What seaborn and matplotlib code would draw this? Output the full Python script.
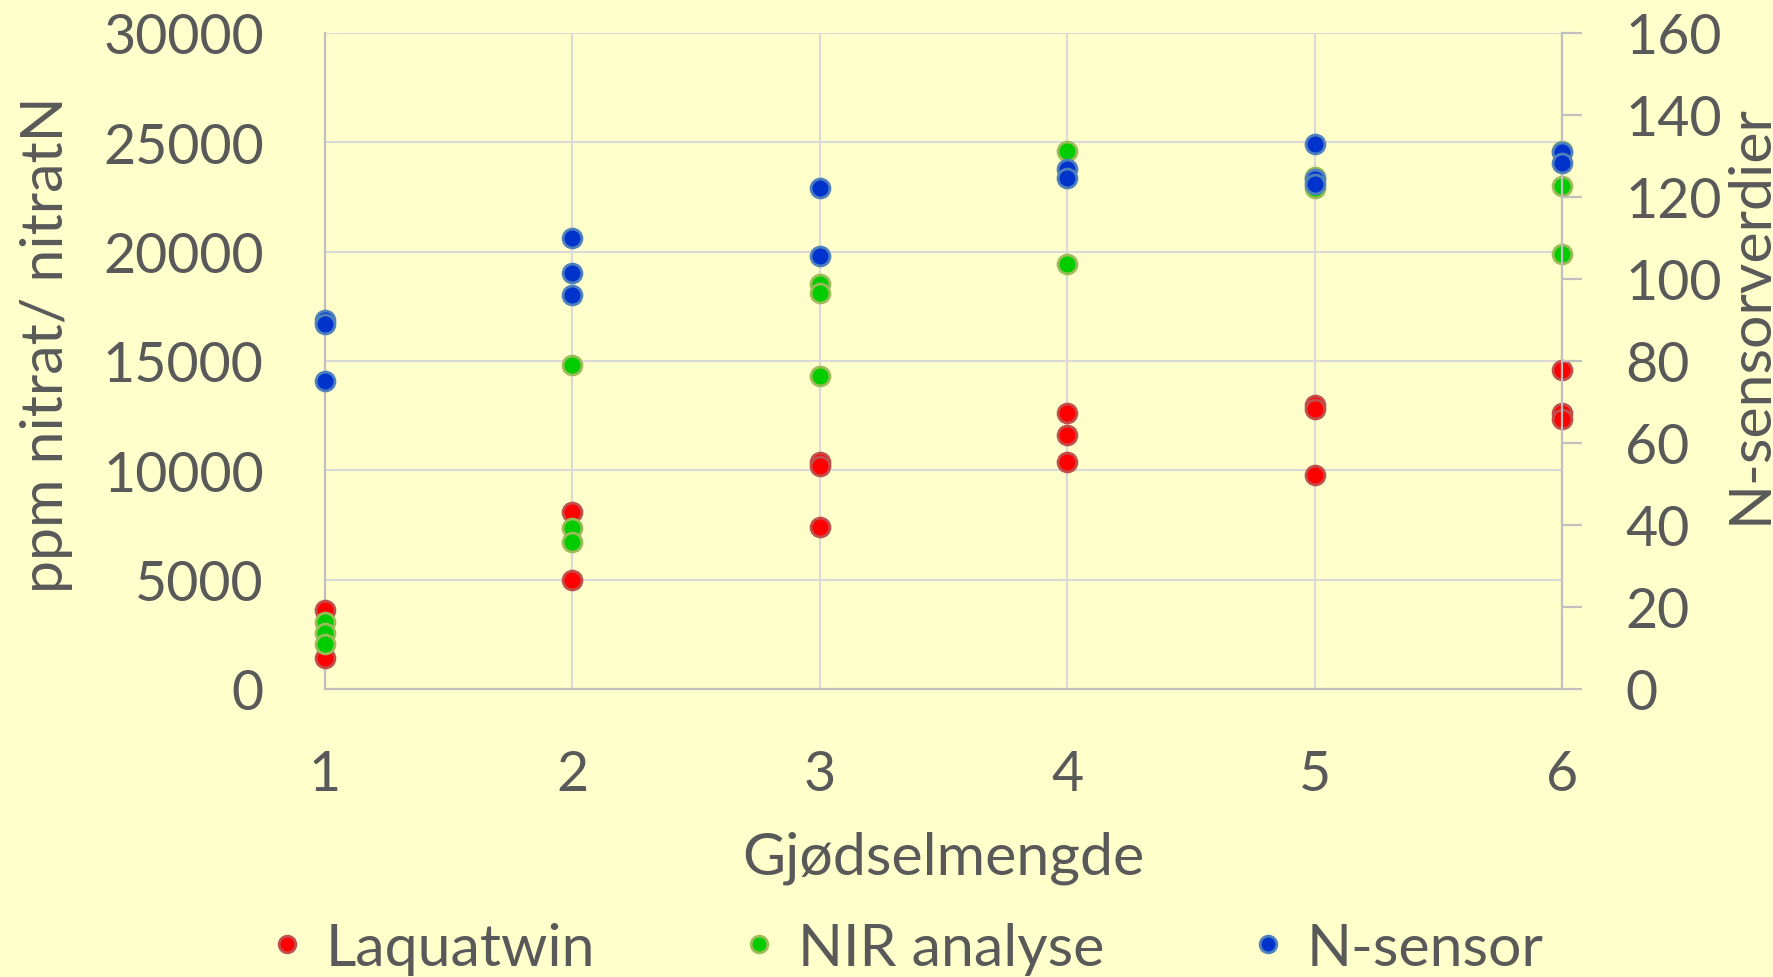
import matplotlib
matplotlib.use("Agg")
import matplotlib.pyplot as plt
import pandas as pd
import seaborn as sns
from matplotlib.lines import Line2D

# Fertiliser level (x) and measured values per method
laqua_x = [1, 1, 2, 2, 3, 3, 3, 4, 4, 4, 5, 5, 5, 6, 6, 6]
laqua_y = [3600, 1400, 8100, 5000, 10400, 10200, 7400, 12600, 11600, 10400,
           13000, 12800, 9800, 14600, 12600, 12350]

nir_x = [1, 1, 1, 2, 2, 2, 3, 3, 3, 4, 4, 5, 5, 6, 6, 6]
nir_y = [3050, 2550, 2050, 14800, 7350, 6700, 18500, 18100, 14300, 24600, 19450,
         23400, 22900, 24600, 23000, 19900]

# N-sensor readings use the secondary (right) axis
nsens_x = [1, 1, 1, 2, 2, 2, 3, 3, 4, 4, 5, 5, 5, 6, 6]
nsens_y = [90, 89, 75, 110, 101.5, 96, 122.3, 105.7, 126.8, 124.6, 133, 124.4, 123.2,
           131, 128.2]

series_names = ["Laquatwin", "NIR analyse", "N-sensor"]
x_ticks = [1, 2, 3, 4, 5, 6]
left_ticks = [0, 5000, 10000, 15000, 20000, 25000, 30000]
right_ticks = [0, 20, 40, 60, 80, 100, 120, 140, 160]

BG = "#FFFFCC"
TXT = "#595959"
AXIS = "#BFBFBF"
GRID = "#D9D9D9"
styles = {
    "Laquatwin": dict(face="#FF0000", edge="#C0504D"),
    "NIR analyse": dict(face="#00CC00", edge="#9BBB59"),
    "N-sensor": dict(face="#0033CC", edge="#4F81BD"),
}

sns.set_theme(style="white")
plt.rcParams["font.family"] = ["Lato", "DejaVu Sans"]
FS_TICK = 40
FS_TEXT = 42.5

fig = plt.figure(figsize=(17.74, 9.78), dpi=100, facecolor=BG)
ax = fig.add_axes([325 / 1774, 1 - 690 / 978, (1562 - 325) / 1774, (690 - 34) / 978])
ax.set_facecolor(BG)
ax2 = ax.twinx()
ax2.patch.set_visible(False)

df_l = pd.DataFrame({"x": laqua_x, "y": laqua_y})
df_n = pd.DataFrame({"x": nir_x, "y": nir_y})
df_s = pd.DataFrame({"x": nsens_x, "y": nsens_y})

MS = 185
LW = 2.0
for d, name, a in [(df_l, "Laquatwin", ax), (df_n, "NIR analyse", ax), (df_s, "N-sensor", ax2)]:
    st = styles[name]
    sns.scatterplot(data=d, x="x", y="y", ax=a, s=MS, color=st["face"],
                    edgecolor=st["edge"], linewidth=LW, clip_on=False, zorder=3,
                    legend=False)

ax.set_xlim(1, 6)
ax.set_ylim(0, 30000)
ax.set_xticks(x_ticks)
ax.set_yticks(left_ticks)
ax2.set_ylim(0, 160)
ax2.set_yticks(right_ticks)

ax.grid(True, color=GRID, linewidth=1.5)
ax.set_axisbelow(True)
for s in ["top", "right"]:
    ax.spines[s].set_visible(False)
for s in ["left", "bottom"]:
    ax.spines[s].set_color(AXIS)
    ax.spines[s].set_linewidth(1.6)
for s in ["top", "left", "bottom"]:
    ax2.spines[s].set_visible(False)
ax2.spines["right"].set_color(AXIS)
ax2.spines["right"].set_linewidth(1.6)

ax.tick_params(axis="y", length=0, pad=44, labelsize=FS_TICK, labelcolor=TXT)
ax.tick_params(axis="x", length=0, pad=43, labelsize=FS_TICK, labelcolor=TXT)
ax2.tick_params(axis="y", direction="out", length=14.4, width=1.6, color=AXIS,
                pad=31, labelsize=FS_TICK, labelcolor=TXT)
ax.set_xlabel("")
ax.set_ylabel("")
ax2.set_ylabel("")

fig.text(943.5 / 1774, 1 - 875 / 978, "Gjødselmengde", ha="center", va="baseline",
         fontsize=FS_TEXT, color=TXT)
fig.text(47 / 1774, 1 - 345 / 978, "ppm nitrat/ nitratN", rotation=90, ha="center",
         va="center", fontsize=FS_TEXT, color=TXT)
fig.text(1750 / 1774, 1 - 314 / 978, "N-sensorverdier", rotation=90, ha="center",
         va="center", fontsize=FS_TEXT, color=TXT)

handles = [Line2D([], [], linestyle="none", marker="o", markersize=12,
                  markerfacecolor=styles[n]["face"], markeredgecolor=styles[n]["edge"],
                  markeredgewidth=2.0) for n in series_names]
leg = fig.legend(handles, series_names, loc="center", bbox_to_anchor=(0.511, 0.029),
                 ncol=3, frameon=False, fontsize=FS_TEXT, handlelength=0.6,
                 handletextpad=0.35, columnspacing=2.48, borderpad=0, borderaxespad=0)
for t in leg.get_texts():
    t.set_color(TXT)

fig.savefig("out.png", dpi=100, facecolor=BG)
